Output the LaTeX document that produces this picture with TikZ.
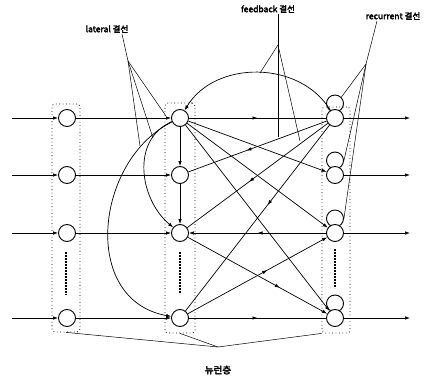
\documentclass[tikz,border=0pt]{standalone}
\usepackage{fontspec}
\newfontfamily\kr{Noto Sans CJK KR}[AutoFakeBold=3]
\usetikzlibrary{arrows.meta,decorations.markings}
\begin{document}
\begin{tikzpicture}[x=1pt,y=-1pt,
  neuron/.style={circle,draw,line width=0.9pt,fill=white,minimum size=17pt,inner sep=0pt},
  loopc/.style={circle,draw,line width=0.9pt,minimum size=17pt,inner sep=0pt},
  layerbox/.style={draw=black,line width=0.8pt,dash pattern=on 0.8pt off 2.6pt,rounded corners=3pt,inner sep=0pt},
  link/.style={line width=0.7pt},
  tip/.style={-{Latex[length=5pt,width=3.5pt]}},
  midarrow/.style={postaction={decorate},decoration={markings,mark=at position #1 with {\arrow{Latex[length=5pt,width=3.5pt]}}}},
  pointer/.style={line width=0.5pt},
  lbl/.style={font=\kr\bfseries\fontsize{8.5}{10}\selectfont,inner sep=1pt},
  dotcol/.style={line width=2.2pt,dash pattern=on 1.6pt off 1.4pt}]
\useasboundingbox (0,0) rectangle (436,385);

% layer boxes
\node[layerbox,minimum width=28pt,minimum height=228pt] (bin) at (66,218) {};
\node[layerbox,minimum width=30pt,minimum height=230pt] (bh) at (180,218) {};
\node[layerbox,minimum width=28pt,minimum height=226pt] (bo) at (336,220) {};

% dot columns
\draw[dotcol] (66,252) -- (66,295);
\draw[dotcol] (180,252) -- (180,294);
\draw[dotcol] (335,249) -- (335,288);

% neurons
\foreach \r/\y in {1/118,2/175,3/233,4/318}{
  \coordinate (s\r) at (12,\y);
  \coordinate (e\r) at (410,\y);
  \node[neuron] (in\r) at (67,\y) {};
  \node[neuron] (h\r) at (180,\y) {};
  \node[loopc] (l\r) at (335,\y-14.5) {};
  \node[neuron] (o\r) at (335,\y) {};
}

% horizontal connections
\foreach \r in {1,2,3,4}{
  \draw[link,tip] (s\r) -- (in\r);
  \draw[link,tip] (in\r) -- (h\r);
  \draw[link,tip] (o\r) -- (e\r);
}
\draw[link,midarrow=0.5] (h1) -- (o1);
\draw[link,tip,midarrow=0.5] (o3) -- (h3);
\draw[link,midarrow=0.5] (h4) -- (o4);

% lateral (vertical)
\draw[link,tip] (h1) -- (h2);
\draw[link,tip] (h2) -- (h3);

% forward diagonals
\draw[link,tip] (h1) -- (o2);
\draw[link,tip] (h1) -- (o3);
\draw[link,tip] (h1) -- (o4);
\draw[link,tip,midarrow=0.66] (h3) -- (o4);
\draw[link,tip,midarrow=0.57] (h4) -- (o3);

% feedback diagonals
\draw[link,midarrow=0.58] (o1) -- (h2);
\draw[link,midarrow=0.56] (o1) -- (h3);
\draw[link,midarrow=0.43] (o1) -- (h4);

% lateral arcs
\draw[link,tip] (h1) .. controls (95,160) and (80,300) .. (h4);
\draw[link,tip] (h1) .. controls (130,140) and (140,200) .. (h3);

% feedback arc
\draw[link,tip] (o1) .. controls (300,60) and (215,60) .. (h1);

% labels and pointers
\node[lbl] (latl) at (107,29) {lateral 결선};
\coordinate (latp) at (128,61);
\coordinate (lt1) at (140,146);
\coordinate (lt2) at (153,138);
\coordinate (lt3) at (166,116);
\draw[pointer] ([xshift=15pt]latl.south) -- (latp);
\draw[pointer] (latp) -- (lt1);
\draw[pointer] (latp) -- (lt2);
\draw[pointer] (latp) -- (lt3);

\node[lbl] (fbl) at (268,9) {feedback 결선};
\coordinate (fbp) at (278,45);
\coordinate (fb1) at (260,73);
\coordinate (fb2) at (278,137);
\coordinate (fb3) at (300,141);
\draw[pointer] ([xshift=10pt]fbl.south) -- (fbp);
\draw[pointer] (fbp) -- (fb1);
\draw[pointer] (fbp) -- (fb2);
\draw[pointer] (fbp) -- (fb3);

\node[lbl] (rcl) at (393,16) {recurrent 결선};
\coordinate (rcp) at (366,64);
\draw[pointer] ([xshift=-16pt]rcl.south) -- (rcp);
\draw[pointer] (rcp) -- (l1.north east);
\draw[pointer] (rcp) -- (l2.east);
\draw[pointer] (rcp) -- (l3.east);

\node[lbl,font=\kr\bfseries\fontsize{9.5}{11}\selectfont] (nl) at (218,370) {뉴런층};
\coordinate (np) at (218,347);
\draw[pointer] (np) -- (bin.south);
\draw[pointer] (np) -- (bh.south);
\draw[pointer] (np) -- (bo.south west);
\end{tikzpicture}
\end{document}
